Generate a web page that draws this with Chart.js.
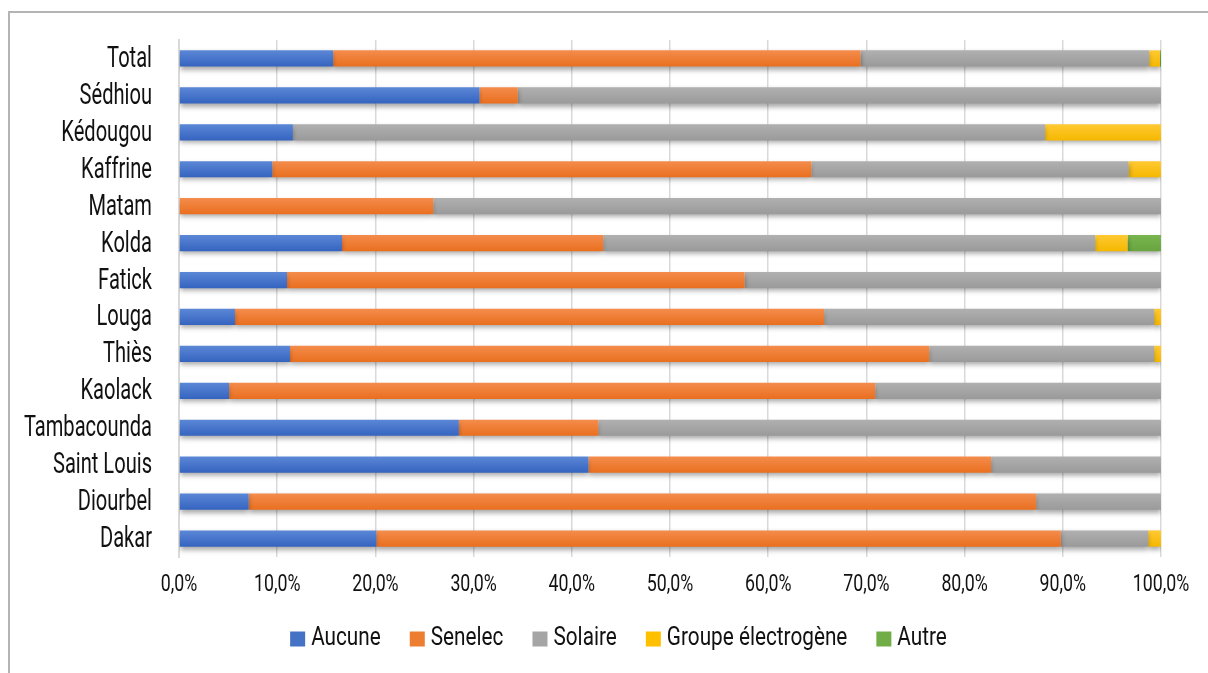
<!DOCTYPE html>
<html>
<head>
<meta charset="utf-8">
<script src="https://cdn.jsdelivr.net/npm/chart.js@4/dist/chart.umd.min.js"></script>
<style>
  html, body { margin: 0; padding: 0; background: #fff; overflow: hidden; }
  #frame { position: absolute; left: 8px; top: 11px; width: 1300px; height: 700px; border: 2px solid #b4b4b4; }
  #wrap { position: absolute; left: 0; top: 0; width: 1208px; height: 673px; }
</style>
</head>
<body>
<div id="frame"></div>
<div id="wrap"><canvas id="chart"></canvas></div>
<script>
const regions = ['Total', 'Sédhiou', 'Kédougou', 'Kaffrine', 'Matam', 'Kolda', 'Fatick', 'Louga', 'Thiès', 'Kaolack', 'Tambacounda', 'Saint Louis', 'Diourbel', 'Dakar'];

// share of households by energy source (%)
const aucune  = [15.7, 30.6, 11.6,  9.5,  0.0, 16.6, 11.0,  5.7, 11.3,  5.1, 28.5, 41.7,  7.1, 20.1];
const senelec = [53.7,  3.9,  0.0, 54.9, 25.9, 26.6, 46.6, 60.0, 65.1, 65.8, 14.2, 41.0, 80.2, 69.7];
const solaire = [29.4, 65.5, 76.6, 32.3, 74.1, 50.1, 42.4, 33.6, 22.9, 29.1, 57.3, 17.3, 12.7,  8.9];
const groupe  = [ 1.1,  0.0, 11.8,  3.3,  0.0,  3.3,  0.0,  0.7,  0.7,  0.0,  0.0,  0.0,  0.0,  1.3];
const autre   = [ 0.1,  0.0,  0.0,  0.0,  0.0,  3.4,  0.0,  0.0,  0.0,  0.0,  0.0,  0.0,  0.0,  0.0];

const xTicks = [0, 10, 20, 30, 40, 50, 60, 70, 80, 90, 100];

const FONT = "Roboto, 'Liberation Sans', sans-serif";
const TEXT = '#111';

// base colour, lighter top, darker bottom
const palette = {
  aucune:  ['#4472C4', '#5b87d6', '#3564c0'],
  senelec: ['#ED7D31', '#f48c4c', '#e96f1f'],
  solaire: ['#A5A5A5', '#b0b0b0', '#9a9a9a'],
  groupe:  ['#FFC000', '#ffc933', '#f5b800'],
  autre:   ['#70AD47', '#78b54f', '#68a540']
};

function barFill(key) {
  const [base, top, bottom] = palette[key];
  return function (ctx) {
    const chart = ctx.chart;
    if (!chart.chartArea || ctx.type !== 'data') return base;
    const y = chart.scales.y.getPixelForValue(ctx.dataIndex);
    const g = chart.ctx.createLinearGradient(0, y - 8, 0, y + 8);
    g.addColorStop(0, top);
    g.addColorStop(1, bottom);
    return g;
  };
}

function series(label, data, key) {
  return {
    label: label,
    key: key,
    data: data,
    backgroundColor: barFill(key),
    borderWidth: 0,
    barPercentage: 0.44,
    categoryPercentage: 1.0
  };
}

// soft drop shadow under the bars
const barShadow = {
  id: 'barShadow',
  beforeDatasetsDraw(chart) {
    const c = chart.ctx;
    c.save();
    c.shadowColor = 'rgba(0, 0, 0, 0.35)';
    c.shadowBlur = 5;
    c.shadowOffsetY = 3;
  },
  afterDatasetsDraw(chart) {
    chart.ctx.restore();
  }
};

// condensed text: squeeze glyphs horizontally
function narrowText(c, text, x, y, size, squeeze, align) {
  c.save();
  c.font = size + 'px ' + FONT;
  c.fillStyle = TEXT;
  c.textBaseline = 'middle';
  c.textAlign = align;
  c.translate(x, y);
  c.scale(squeeze, 1);
  c.fillText(text, 0, 0);
  c.restore();
}

function narrowWidth(c, text, size, squeeze) {
  c.save();
  c.font = size + 'px ' + FONT;
  const w = c.measureText(text).width * squeeze;
  c.restore();
  return w;
}

// axis labels and legend drawn in a narrow face
const narrowLabels = {
  id: 'narrowLabels',
  afterDraw(chart) {
    const c = chart.ctx;
    const xs = chart.scales.x, ys = chart.scales.y;
    const area = chart.chartArea;

    regions.forEach((name, i) => {
      narrowText(c, name, area.left - 27, ys.getPixelForValue(i) + 1, 30, 0.67, 'right');
    });

    xTicks.forEach(v => {
      const label = v.toFixed(1).replace('.', ',') + '%';
      narrowText(c, label, xs.getPixelForValue(v), area.bottom + 28, 24, 0.74, 'center');
    });

    // legend
    const box = 15, gap = 6, spacing = 29, size = 25, squeeze = 0.83;
    const items = chart.data.datasets.map(ds => ({
      text: ds.label,
      color: palette[ds.key][0],
      w: narrowWidth(c, ds.label, size, squeeze)
    }));
    const total = items.reduce((s, it) => s + box + gap + it.w, 0) + spacing * (items.length - 1);
    let x = 618.5 - total / 2;
    const y = 639;
    items.forEach(it => {
      c.fillStyle = it.color;
      c.fillRect(x, y - box / 2, box, box);
      narrowText(c, it.text, x + box + gap, y, size, squeeze, 'left');
      x += box + gap + it.w + spacing;
    });
  }
};

new Chart(document.getElementById('chart'), {
  type: 'bar',
  data: {
    labels: regions,
    datasets: [
      series('Aucune', aucune, 'aucune'),
      series('Senelec', senelec, 'senelec'),
      series('Solaire', solaire, 'solaire'),
      series('Groupe électrogène', groupe, 'groupe'),
      series('Autre', autre, 'autre')
    ]
  },
  plugins: [barShadow, narrowLabels],
  options: {
    indexAxis: 'y',
    responsive: true,
    maintainAspectRatio: false,
    animation: false,
    layout: { padding: { left: 0, right: 47, top: 40, bottom: 0 } },
    plugins: {
      tooltip: { enabled: false },
      legend: { display: false }
    },
    scales: {
      x: {
        stacked: true,
        min: 0,
        max: 100,
        afterBuildTicks(scale) { scale.ticks = xTicks.map(v => ({ value: v })); },
        ticks: { display: false },
        grid: { color: '#d9d9d9', lineWidth: 1.5, drawTicks: false },
        border: { display: false },
        afterFit(scale) { scale.height = 116; }
      },
      y: {
        stacked: true,
        ticks: { display: false },
        grid: { display: false, drawTicks: false },
        border: { display: true, color: '#d9d9d9', width: 2 },
        afterFit(scale) { scale.width = 179; }
      }
    }
  }
});
</script>
</body>
</html>
